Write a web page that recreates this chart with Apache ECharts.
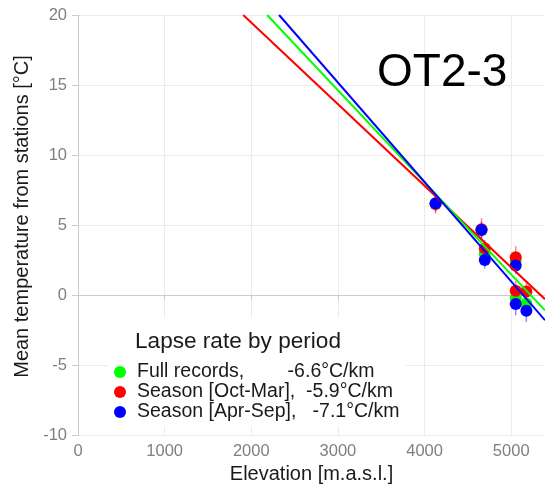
<!DOCTYPE html>
<html>
<head>
<meta charset="utf-8">
<script src="https://cdn.jsdelivr.net/npm/echarts@6/dist/echarts.min.js"></script>
<style>html,body{margin:0;padding:0;background:#fff}#c{width:545px;height:490px}</style>
</head>
<body>
<div id="c"></div>
<script>
// ---- data ----
const seriesNames = [
  'Full records,        -6.6°C/km',
  'Season [Oct-Mar],  -5.9°C/km',
  'Season [Apr-Sep],   -7.1°C/km'
];
const seriesColors = ['#00ff00', '#ff0000', '#0000ff'];
// station elevations (m a.s.l.)
const elevations = [4127, 4657, 4695, 5052, 5052, 5175];
// mean temperatures (°C) per period
const tempFull = [6.5, 4.65, 2.95, 2.45, -0.2, -0.6];
const tempOctMar = [6.5, 4.7, 3.33, 2.7, 0.3, 0.25];
const tempAprSep = [6.55, 4.65, 2.5, 2.1, -0.65, -1.12];
// half-length of the error bars (°C)
const errFull = [0.5, 0.5, 0.5, 0.6, 0.6, 0.6];
const errOctMar = [0.7, 0.8, 0.6, 0.8, 0.7, 0.7];
const errAprSep = [0.6, 0.6, 0.6, 0.6, 0.8, 0.8];
// fitted lapse-rate lines: [elevation, temperature] end points
const fitFull = [[2183, 20], [5390, -1.1]];
const fitOctMar = [[1907, 20], [5390, -0.3]];
const fitAprSep = [[2321, 20], [5390, -1.8]];
const xTicks = [0, 1000, 2000, 3000, 4000, 5000];
const yTicks = [-10, -5, 0, 5, 10, 15, 20];
const panelLabel = 'OT2-3';
const legendTitle = 'Lapse rate by period';
const xName = 'Elevation [m.a.s.l.]';
const yName = 'Mean temperature from stations [°C]';

const temps = [tempFull, tempOctMar, tempAprSep];
const errs = [errFull, errOctMar, errAprSep];
const fits = [fitFull, fitOctMar, fitAprSep];

const FONT = 'Liberation Sans, Arial, Helvetica, sans-serif';
const chart = echarts.init(document.getElementById('c'), null, {renderer: 'canvas'});

const series = [];
// error bars
temps.forEach((t, i) => {
  series.push({
    type: 'custom', name: 'err' + i, z: 2 + i,
    data: elevations.map((x, k) => [x, t[k], errs[i][k]]),
    renderItem: function (params, api) {
      const x = api.value(0), y = api.value(1), e = api.value(2);
      const p1 = api.coord([x, y - e]);
      const p2 = api.coord([x, y + e]);
      return {type: 'line', shape: {x1: p1[0], y1: p1[1], x2: p2[0], y2: p2[1]},
        style: {stroke: seriesColors[i], lineWidth: 1.5, opacity: 0.45}};
    },
    silent: true
  });
});
// points
temps.forEach((t, i) => {
  series.push({
    type: 'scatter', name: seriesNames[i], z: 5 + i,
    symbol: 'circle', symbolSize: 12,
    itemStyle: {color: seriesColors[i], opacity: 1},
    data: elevations.map((x, k) => [x, t[k]])
  });
});
// fit lines (order: red, green, blue)
[1, 0, 2].forEach((i, n) => {
  series.push({
    type: 'line', name: 'fit' + i, z: 10 + n,
    data: fits[i], showSymbol: false, symbol: 'none', clip: true,
    lineStyle: {color: seriesColors[i], width: 2}
  });
});

chart.setOption({
  animation: false,
  backgroundColor: '#fff',
  grid: {left: 78, right: 0, top: 15, bottom: 55, containLabel: false},
  title: [
    {text: panelLabel, left: 377, top: 50, padding: 0,
     textStyle: {fontFamily: FONT, fontSize: 46, fontWeight: 'normal', color: '#000'}},
    {text: legendTitle, left: 135, top: 330, padding: 0, z: 20,
     textStyle: {fontFamily: FONT, fontSize: 22.6, fontWeight: 'normal', color: '#1a1a1a'}}
  ],
  legend: {
    data: seriesNames,
    orient: 'vertical', left: 108, top: 318,
    padding: [44, 6, 4, 6],
    backgroundColor: '#fff',
    icon: 'circle', itemWidth: 12, itemHeight: 12, itemGap: 0,
    selectedMode: false,
    textStyle: {fontFamily: FONT, fontSize: 19.5, lineHeight: 18, color: '#1a1a1a', padding: [0, 0, 0, 6]}
  },
  xAxis: {
    type: 'value', min: xTicks[0], max: 5390, interval: 1000,
    name: xName, nameLocation: 'middle', nameGap: 28,
    nameTextStyle: {fontFamily: FONT, fontSize: 20, color: '#1a1a1a'},
    axisLine: {show: true, lineStyle: {color: '#cccccc', width: 1}},
    axisTick: {show: true, length: 5, lineStyle: {color: '#cccccc'}},
    axisLabel: {fontFamily: FONT, fontSize: 16.5, color: '#7f7f7f', margin: 8, showMaxLabel: false,
      formatter: v => (xTicks.indexOf(v) >= 0 ? String(v) : '')},
    splitLine: {show: true, lineStyle: {color: '#ebebeb', width: 1}}
  },
  yAxis: {
    type: 'value', min: yTicks[0], max: yTicks[yTicks.length - 1], interval: 5,
    name: yName, nameLocation: 'middle', nameGap: 38,
    nameTextStyle: {fontFamily: FONT, fontSize: 20, color: '#1a1a1a', padding: [0, 0, 0, 17]},
    axisLine: {show: true, lineStyle: {color: '#cccccc', width: 1}},
    axisTick: {show: true, length: 6, lineStyle: {color: '#cccccc'}},
    axisLabel: {fontFamily: FONT, fontSize: 16.5, color: '#7f7f7f', margin: 11,
      formatter: v => String(v)},
    splitLine: {show: true, lineStyle: {color: '#ebebeb', width: 1}}
  },
  series: series
});
</script>
</body>
</html>
